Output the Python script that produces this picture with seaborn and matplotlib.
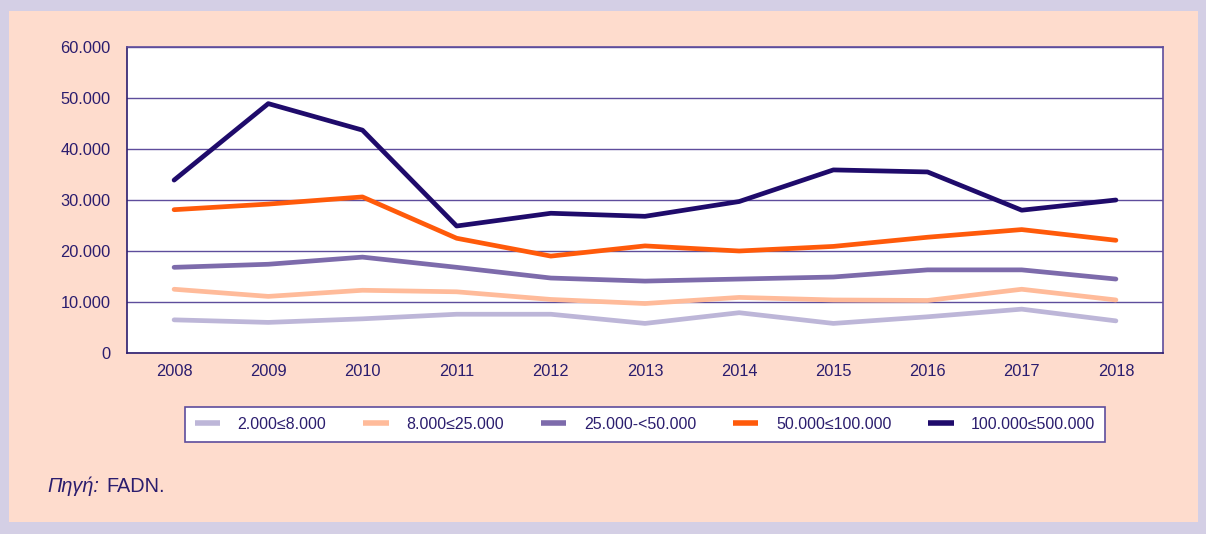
import pandas as pd
import numpy as np
import matplotlib.pyplot as plt
from matplotlib.ticker import FuncFormatter, FixedLocator
import seaborn as sns

# data
years = [2008, 2009, 2010, 2011, 2012, 2013, 2014, 2015, 2016, 2017, 2018]
labels = ['2.000≤8.000', '8.000≤25.000', '25.000-<50.000', '50.000≤100.000', '100.000≤500.000']
s_2k = [6500, 6000, 6700, 7600, 7600, 5800, 7900, 5800, 7100, 8600, 6300]
s_8k = [12500, 11100, 12300, 12000, 10500, 9700, 10900, 10400, 10300, 12500, 10400]
s_25k = [16800, 17400, 18800, 16800, 14700, 14100, 14500, 14900, 16300, 16300, 14500]
s_50k = [28100, 29200, 30600, 22500, 19000, 21000, 20000, 20900, 22700, 24200, 22100]
s_100k = [33900, 48900, 43700, 24900, 27400, 26800, 29700, 35900, 35500, 28000, 30000]
colors = ['#bdb6d8', '#ffbb9a', '#7d6bab', '#ff5a0a', '#1f0b6b']

rows = []
for lab, vals in zip(labels, [s_2k, s_8k, s_25k, s_50k, s_100k]):
    for i, v in enumerate(vals):
        rows.append({'idx': i, 'value': v, 'group': lab})
df = pd.DataFrame(rows)

sns.set_style("white")
plt.rcParams['font.family'] = ['Liberation Sans', 'DejaVu Sans']
txt = '#2b1d6e'

fig = plt.figure(figsize=(12.06, 5.34), dpi=100)
fig.patch.set_facecolor('#d4cfe5')
# peach panel behind everything
bg = fig.add_axes([9 / 1206, 12 / 534, 1189 / 1206, 511 / 534], zorder=-10)
bg.set_facecolor('#fedccd')
bg.set_xticks([])
bg.set_yticks([])
for sp in bg.spines.values():
    sp.set_visible(False)

ax = fig.add_axes([127 / 1206, 1 - 353 / 534, 1036 / 1206, 306 / 534])
ax.set_facecolor('white')

sns.lineplot(data=df, x='idx', y='value', hue='group', hue_order=labels,
             palette=colors, linewidth=3.4, ax=ax, legend=True)

ax.set_xlim(-0.5, len(years) - 0.5)
ax.set_ylim(0, 60000)
ax.set_yticks(np.arange(0, 60001, 10000))
ax.yaxis.set_major_formatter(FuncFormatter(lambda v, p: f"{int(v):,}".replace(",", ".")))
ax.set_xticks(range(len(years)))
ax.set_xticklabels([str(y) for y in years])
ax.xaxis.set_minor_locator(FixedLocator(np.arange(0.5, len(years) - 1, 1)))
ax.tick_params(axis='x', which='major', length=0, pad=8, labelsize=11.8, labelcolor=txt)
ax.tick_params(axis='x', which='minor', direction='in', length=9, width=1.2, color=txt)
ax.tick_params(axis='y', length=0, pad=12, labelsize=11.8, labelcolor=txt)
ax.grid(axis='y', color='#5e4d9c', linewidth=1.0)
ax.set_axisbelow(True)
for sp in ax.spines.values():
    sp.set_color('#5e4d9c')
    sp.set_linewidth(1.2)
ax.spines['left'].set_color(txt)
ax.spines['bottom'].set_color(txt)
ax.set_xlabel('')
ax.set_ylabel('')

handles, labs = ax.get_legend_handles_labels()
ax.get_legend().remove()
leg = fig.legend(handles, labs, loc='center', bbox_to_anchor=(645 / 1206, 1 - 424.5 / 534),
                 ncol=5, frameon=True, fancybox=False, handlelength=1.6, handletextpad=1.1,
                 columnspacing=2.3, fontsize=11.5, borderpad=0.6, edgecolor='#5e4d9c',
                 facecolor='white', framealpha=1)
leg.get_frame().set_linewidth(1.2)
for t in leg.get_texts():
    t.set_color(txt)
for h in leg.get_lines():
    h.set_linewidth(4)
    h.set_solid_capstyle('butt')

fig.text(47 / 1206, 1 - 486 / 534, 'Πηγή:', style='italic', fontsize=14.3, color=txt, va='center')
fig.text(106 / 1206, 1 - 486 / 534, 'FADN.', fontsize=14.3, color=txt, va='center')

fig.savefig('out.png', dpi=100, facecolor=fig.get_facecolor())
